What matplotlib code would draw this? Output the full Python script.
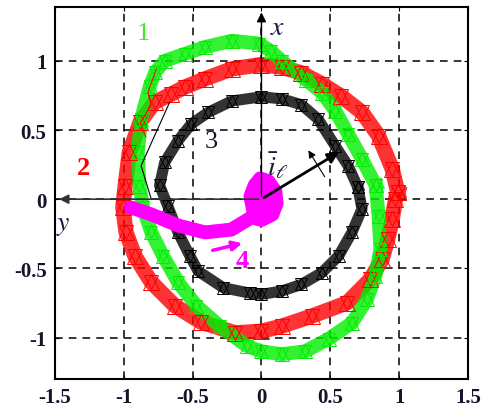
import matplotlib
matplotlib.use("Agg")
import matplotlib.pyplot as plt

plt.rcParams['mathtext.fontset'] = 'stix'

# Trajectory 1 (green)
g_x = [0.83, 0.73, 0.63, 0.535, 0.44, 0.32, 0.146, 0.07, -0.02, -0.215, -0.41, -0.557, -0.703, -0.77,
       -0.81, -0.874, -0.898, -0.886, -0.86, -0.80, -0.715, -0.606, -0.472, -0.30, -0.107, 0.00,
       0.146, 0.316, 0.487, 0.657, 0.766, 0.827, 0.864, 0.85, 0.83]
g_y = [0.10, 0.29, 0.47, 0.64, 0.77, 0.865, 1.00, 1.07, 1.125, 1.145, 1.10, 1.05, 1.00, 0.92,
       0.82, 0.58, 0.338, 0.097, -0.06, -0.24, -0.41, -0.60, -0.77, -0.92, -1.06, -1.10,
       -1.12, -1.10, -1.01, -0.894, -0.725, -0.556, -0.36, -0.12, 0.10]
# Trajectory 2 (red)
r_x = [0.99, 0.95, 0.85, 0.73, 0.58, 0.44, 0.29, 0.146, 0.00, -0.215, -0.41, -0.557, -0.655,
       -0.776, -0.88, -0.96, -0.99, -1.007, -0.983, -0.92, -0.80, -0.63, -0.436, -0.19, 0.00,
       0.146, 0.365, 0.62, 0.79, 0.876, 0.917, 0.95, 0.973, 0.99]
r_y = [0.05, 0.217, 0.459, 0.628, 0.744, 0.833, 0.913, 0.954, 0.973, 0.942, 0.87, 0.81, 0.76,
       0.70, 0.56, 0.338, 0.097, -0.06, -0.24, -0.41, -0.60, -0.77, -0.89, -0.966, -0.954,
       -0.918, -0.845, -0.75, -0.58, -0.435, -0.29, -0.145, 0.00, 0.05]
# Trajectory 3 (black)
k_x = [0.70, 0.63, 0.535, 0.41, 0.29, 0.146, 0.00, -0.215, -0.386, -0.51, -0.606, -0.703,
       -0.74, -0.68, -0.606, -0.52, -0.46, -0.277, -0.08, 0.00, 0.146, 0.29, 0.44, 0.56,
       0.657, 0.73, 0.70]
k_y = [0.085, 0.24, 0.386, 0.58, 0.683, 0.725, 0.74, 0.71, 0.628, 0.543, 0.423, 0.266,
       0.10, -0.05, -0.24, -0.41, -0.52, -0.64, -0.68, -0.688, -0.664, -0.616, -0.53, -0.41,
       -0.24, -0.07, 0.085]
# start transient of trajectory 3
kt_x = [-0.80, -0.874, -0.667]
kt_y = [0.00, 0.242, 0.70]
# start transient of trajectory 2
rt_x = [-0.764, -0.825, -0.80, -0.88, -0.84]
rt_y = [0.94, 0.77, 0.68, 0.55, 0.45]
# Trajectory 4 (magenta)
m_x = [-0.947, -0.80, -0.606, -0.41, -0.22, -0.07, 0.00, 0.08, 0.11, 0.10, 0.05, -0.01, -0.05,
       -0.08, -0.06, 0.00, 0.06, 0.08, 0.04, -0.02, 0.00]
m_y = [-0.06, -0.11, -0.19, -0.24, -0.22, -0.13, -0.15, -0.11, -0.03, 0.06, 0.13, 0.15, 0.10,
       0.02, -0.08, -0.12, -0.07, 0.01, 0.07, 0.04, -0.03]

xticks = [-1.5, -1, -0.5, 0, 0.5, 1, 1.5]
xtick_labels = ['-1.5', '-1', '-0.5', '0', '0.5', '1', '1.5']
yticks = [-1, -0.5, 0, 0.5, 1]
ytick_labels = ['-1', '-0.5', '0', '0.5', '1']

fig = plt.figure(figsize=(4.86, 4.14), dpi=100)
ax = fig.add_axes([0.113, 0.082, 0.850, 0.899])
ax.set_xlim(-1.5, 1.5)
ax.set_ylim(-1.3, 1.39)

ax.set_xticks(xticks)
ax.set_xticklabels(xtick_labels)
ax.set_yticks(yticks)
ax.set_yticklabels(ytick_labels)
for lab in ax.get_xticklabels() + ax.get_yticklabels():
    lab.set_family('Liberation Serif')
    lab.set_fontsize(15)
    lab.set_fontweight('bold')
    lab.set_color('#14142a')
ax.tick_params(direction='in', length=3, top=True, right=True, pad=6)
ax.grid(True, color='black', linestyle=(0, (5, 4)), linewidth=1.1)
for s in ax.spines.values():
    s.set_linewidth(1.5)

def ring(x, y, c, lw, ms):
    ax.plot(x, y, color=c, lw=lw, alpha=0.8, solid_joinstyle='round', zorder=3)
    ax.plot(x, y, color=c, lw=0, marker='^', markersize=ms, markerfacecolor='none',
            markeredgewidth=0.7, zorder=4)
    ax.plot(x, y, color=c, lw=0, marker='v', markersize=ms - 1, markerfacecolor='none',
            markeredgewidth=0.7, zorder=4)

ring(r_x, r_y, '#ff0000', 11, 11)
ring(g_x, g_y, '#00ee00', 10, 10)
ring(k_x, k_y, 'black', 8, 9)
ax.plot(kt_x, kt_y, color='black', lw=0.8, zorder=4)
ax.plot(rt_x, rt_y, color='#ff0000', lw=0.8, zorder=4)
ax.plot(m_x, m_y, color='#ff00ff', lw=10, solid_joinstyle='round', solid_capstyle='round', zorder=5)

# axis arrows
ax.annotate('', xy=(0, 1.37), xytext=(0, 0),
            arrowprops=dict(arrowstyle='-|>', color='black', lw=1.0, mutation_scale=14), zorder=6)
ax.annotate('', xy=(-1.49, 0), xytext=(0, 0),
            arrowprops=dict(arrowstyle='-|>', color='#333333', lw=1.2, mutation_scale=14), zorder=6)
# current vector
ax.annotate('', xy=(0.58, 0.35), xytext=(0, 0),
            arrowprops=dict(arrowstyle='-|>', color='black', lw=2.0, mutation_scale=16), zorder=7)
ax.annotate('', xy=(0.33, 0.37), xytext=(0.47, 0.145),
            arrowprops=dict(arrowstyle='-|>', color='black', lw=0.8, mutation_scale=11), zorder=7)
# magenta arrow
ax.annotate('', xy=(-0.12, -0.314), xytext=(-0.374, -0.374),
            arrowprops=dict(arrowstyle='-|>', color='#ff00ff', lw=2.5, mutation_scale=14), zorder=7)

txt = dict(family='Liberation Serif', fontsize=19, ha='center', va='center', zorder=8)
ax.text(-0.86, 1.2, '1', color='#33ee33', **txt)
ax.text(-1.29, 0.23, '2', color='#ff0000', fontweight='bold', **txt)
ax.text(-0.365, 0.42, '3', color='#14142a', **txt)
ax.text(-0.14, -0.44, '4', color='#ff00ff', fontweight='bold', **txt)
ax.text(0.12, 1.25, r'$x$', color='#1a1a3e', fontsize=20, ha='center', va='center', zorder=8)
ax.text(-1.44, -0.17, r'$y$', color='#1a1a3e', fontsize=20, ha='center', va='center', zorder=8)
ax.text(0.12, 0.25, r'$\bar{i}_{\ell}$', color='#1a1a3e', fontsize=20, ha='center', va='center', zorder=8)

fig.savefig('out.png', dpi=100)
